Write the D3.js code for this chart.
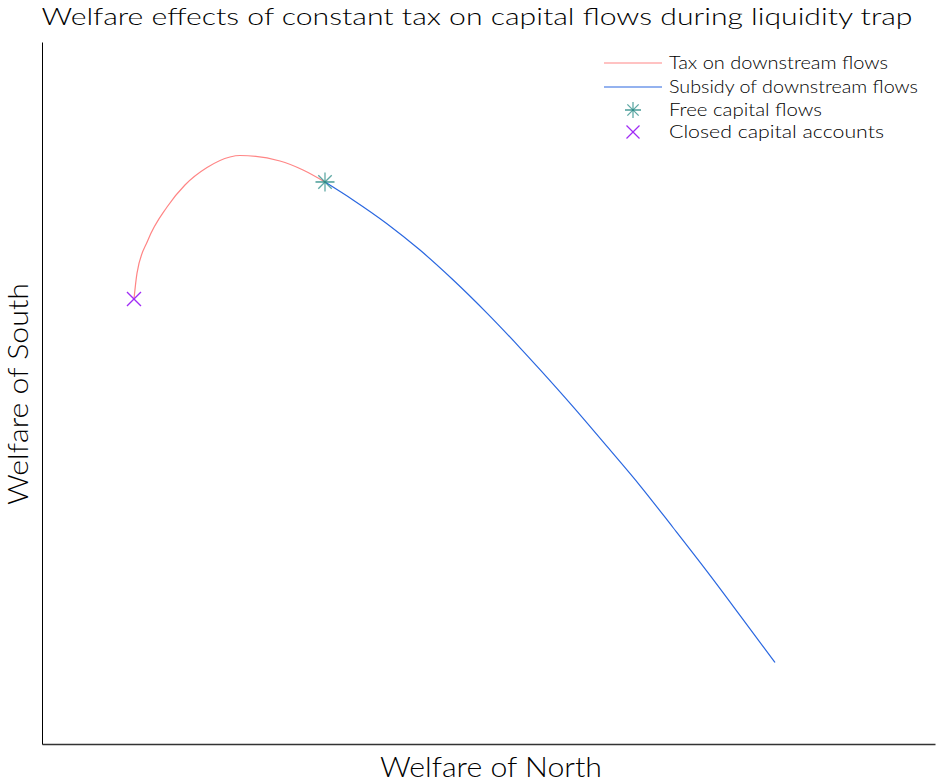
<!DOCTYPE html>
<html>
<head>
<meta charset="utf-8">
<script src="https://cdn.jsdelivr.net/npm/d3@7"></script>
<style>
  html, body { margin: 0; padding: 0; background: #fff; }
  text { font-family: "Lato", "DejaVu Sans", sans-serif; font-weight: 300; fill: #000; }
</style>
</head>
<body>
<svg id="chart" width="937" height="783"></svg>
<script>
// Welfare pairs (North, South) traced out as the tax rate varies
const taxNorth   = [10.30, 10.64, 11.87, 14.00, 16.01, 18.48, 21.05, 22.17, 26.65, 29.23, 31.69];
const taxSouth   = [63.39, 67.09, 71.79, 76.50, 79.63, 82.12, 83.62, 83.83, 83.05, 81.77, 80.06];
const subNorth   = [31.69, 34.83, 38.63, 42.33, 46.02, 49.83, 53.53, 55.77, 59.46, 63.27, 67.03, 70.66, 74.47, 78.16, 82.08];
const subSouth   = [80.06, 77.51, 74.12, 70.36, 66.13, 61.38, 56.44, 53.33, 48.06, 42.39, 36.71, 30.84, 24.59, 18.33, 11.61];
const freeFlows  = [31.69, 80.06];
const closedAcct = [10.30, 63.39];

const legendLabels = ["Tax on downstream flows", "Subsidy of downstream flows", "Free capital flows", "Closed capital accounts"];

const W = 937, H = 783;
const margin = { left: 42, right: 2, top: 42, bottom: 39 };
const svg = d3.select("#chart");

const x = d3.scaleLinear().domain([0, 100]).range([margin.left, W - margin.right]);
const y = d3.scaleLinear().domain([0, 100]).range([H - margin.bottom, margin.top]);

const colTax = "#ff8585", colSub = "#2a67e0", colFree = "#2b8c87", colClosed = "#a02cf5";

// axis frame (no ticks)
const xAxis = d3.axisBottom(x).tickValues([]).tickSizeOuter(0);
const yAxis = d3.axisLeft(y).tickValues([]).tickSizeOuter(0);
svg.append("g").attr("transform", `translate(0,${y(0)})`).call(xAxis)
  .select(".domain").attr("stroke", "#333").attr("stroke-width", 1.5);
svg.append("g").attr("transform", `translate(${x(0)},0)`).call(yAxis)
  .select(".domain").attr("stroke", "#000").attr("stroke-width", 1);

const line = d3.line().x(d => x(d[0])).y(d => y(d[1])).curve(d3.curveMonotoneX);

svg.append("path").datum(d3.zip(taxNorth, taxSouth))
  .attr("d", line).attr("fill", "none").attr("stroke", colTax).attr("stroke-width", 1.2);
svg.append("path").datum(d3.zip(subNorth, subSouth))
  .attr("d", line).attr("fill", "none").attr("stroke", colSub).attr("stroke-width", 1.2);

function star(g, cx, cy, r, color) {
  const s = g.append("g").attr("transform", `translate(${cx},${cy})`);
  [0, 45, 90, 135].forEach((a, i) => {
    const t = a * Math.PI / 180;
    s.append("line")
      .attr("x1", -r * Math.cos(t)).attr("y1", -r * Math.sin(t))
      .attr("x2", r * Math.cos(t)).attr("y2", r * Math.sin(t))
      .attr("stroke", color).attr("stroke-width", 1.3)
      .attr("stroke-opacity", i === 0 ? 1 : 0.75);
  });
}
function cross(g, cx, cy, r, color) {
  const s = g.append("g").attr("transform", `translate(${cx},${cy})`);
  s.append("line").attr("x1", -r).attr("y1", -r).attr("x2", r).attr("y2", r)
    .attr("stroke", color).attr("stroke-width", 1.3);
  s.append("line").attr("x1", -r).attr("y1", r).attr("x2", r).attr("y2", -r)
    .attr("stroke", color).attr("stroke-width", 1.3);
}

star(svg, x(freeFlows[0]), y(freeFlows[1]), 9.5, colFree);
cross(svg, x(closedAcct[0]), y(closedAcct[1]), 7, colClosed);

// title and axis labels
svg.append("text").attr("x", 477).attr("y", 25).attr("text-anchor", "middle")
  .attr("font-size", 23).attr("textLength", 871).attr("lengthAdjust", "spacingAndGlyphs")
  .text("Welfare effects of constant tax on capital flows during liquidity trap");
svg.append("text").attr("x", 491).attr("y", 777).attr("text-anchor", "middle")
  .attr("font-size", 27).attr("textLength", 222).attr("lengthAdjust", "spacingAndGlyphs")
  .text("Welfare of North");
svg.append("text").attr("transform", "translate(28,394) rotate(-90)").attr("text-anchor", "middle")
  .attr("font-size", 27).attr("textLength", 222).attr("lengthAdjust", "spacingAndGlyphs")
  .text("Welfare of South");

// legend
const lg = svg.append("g");
const rowsY = [63, 87, 110, 132];
const widths = [219, 249, 153, 215];
lg.append("line").attr("x1", 604).attr("x2", 662).attr("y1", rowsY[0]).attr("y2", rowsY[0])
  .attr("stroke", colTax).attr("stroke-width", 1.2);
lg.append("line").attr("x1", 604).attr("x2", 662).attr("y1", rowsY[1]).attr("y2", rowsY[1])
  .attr("stroke", colSub).attr("stroke-width", 1.2);
star(lg, 633, rowsY[2], 8, colFree);
cross(lg, 633, rowsY[3], 6.5, colClosed);
legendLabels.forEach((t, i) => {
  lg.append("text").attr("x", 669).attr("y", rowsY[i] + 6)
    .attr("font-size", 17.5).attr("textLength", widths[i]).attr("lengthAdjust", "spacingAndGlyphs")
    .text(t);
});
</script>
</body>
</html>
